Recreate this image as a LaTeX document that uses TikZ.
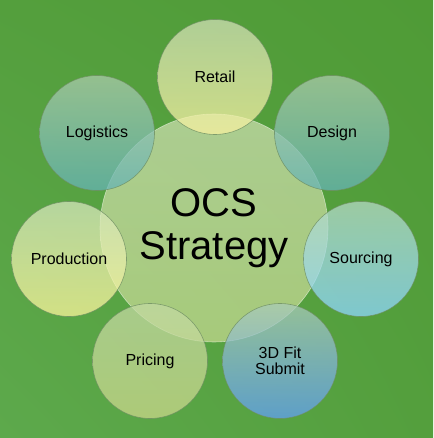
\documentclass[tikz,border=0pt]{standalone}
\usepackage{fontspec}
\setmainfont{Liberation Sans}
\usepackage{xcolor}
\usepackage{tikz}
\usetikzlibrary{positioning,shadings}
\definecolor{bgdark}{HTML}{4F9B36}
\definecolor{bgmid}{HTML}{549F3D}
\definecolor{bglight}{HTML}{5DA94C}
\definecolor{rim}{HTML}{6F8F63}
\definecolor{coretop}{HTML}{CADDAE}
\definecolor{corebot}{HTML}{C2D88E}
\definecolor{palegreen}{HTML}{CFDFB5}
\definecolor{paleyellow}{HTML}{F8F2A0}
\definecolor{tealtop}{HTML}{ABCBAB}
\definecolor{tealbot}{HTML}{65B3B5}
\definecolor{prodtop}{HTML}{D5E7BD}
\definecolor{prodbot}{HTML}{FBF59A}
\definecolor{srctop}{HTML}{B5DAC5}
\definecolor{srcbot}{HTML}{8DD6FF}
\definecolor{pricetop}{HTML}{C2D9A3}
\definecolor{pricebot}{HTML}{C9D789}
\definecolor{fittop}{HTML}{AACBB6}
\definecolor{fitbot}{HTML}{619FF5}
\tikzset{core/.style={circle,minimum size=228pt,inner sep=0pt,
  top color=coretop,bottom color=corebot,fill opacity=0.75,text opacity=1,
  draw=white,draw opacity=0.5,line width=0.6pt,align=center,
  font=\fontsize{40}{43}\selectfont},
  sat/.style={circle,minimum size=115pt,inner sep=0pt,fill opacity=0.75,
  text opacity=1,draw=rim,draw opacity=0.8,line width=0.6pt,align=center,
  font=\fontsize{16}{16.5}\selectfont}}

\begin{document}
\begin{tikzpicture}[x=1pt,y=-1pt]
\useasboundingbox (0,0) rectangle (433,438);
\shade[lower left=bglight,upper right=bgdark,upper left=bgmid,lower right=bgmid]
  (0,438) rectangle (433,0);
\node[core] (ocs) at (214,228) {OCS\\Strategy};
\node[sat,top color=palegreen,bottom color=paleyellow] (retail) at (215,77) {Retail};
\node[sat,top color=tealtop,bottom color=tealbot] (logistics) at (97,133) {Logistics};
\node[sat,top color=tealtop,bottom color=tealbot] (design) at (332,133) {Design};
\node[sat,top color=prodtop,bottom color=prodbot] (production) at (69,259) {Production};
\node[sat,top color=srctop,bottom color=srcbot] (sourcing) at (361,259) {Sourcing};
\node[sat,top color=pricetop,bottom color=pricebot] (pricing) at (150,361) {Pricing};
\node[sat,top color=fittop,bottom color=fitbot] (fit) at (280,361) {3D Fit\\Submit};
\end{tikzpicture}
\end{document}
